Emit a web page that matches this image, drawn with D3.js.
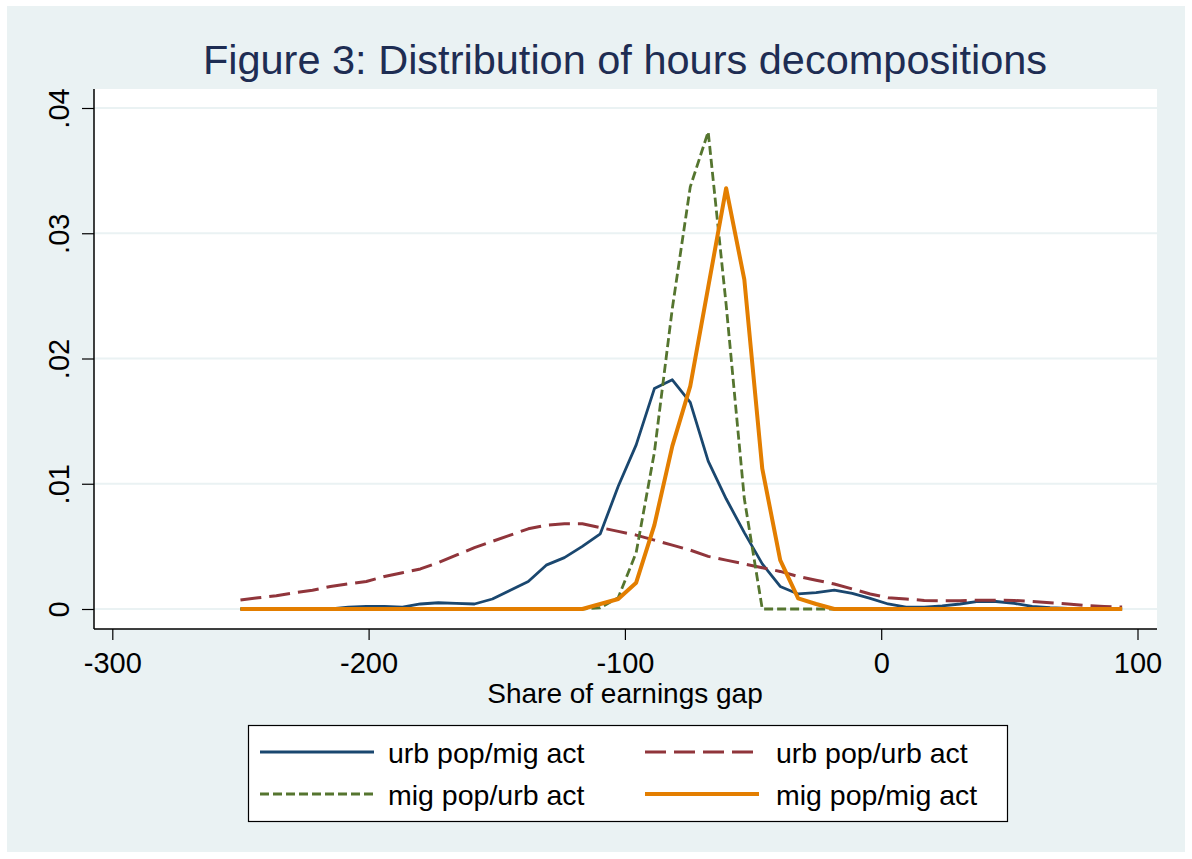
<!DOCTYPE html>
<html>
<head>
<meta charset="utf-8">
<script src="https://cdn.jsdelivr.net/npm/d3@7"></script>
<style>
  body { margin: 0; background: #ffffff; }
  svg { display: block; font-family: "Liberation Sans", Arial, sans-serif; }
</style>
</head>
<body>
<svg width="1192" height="859"></svg>
<script>

// grid of the density estimates (share of earnings gap)
var xs = [-250.0, -243.0, -236.0, -228.9, -221.9, -214.9, -207.9, -200.9, -193.8, -186.8,
    -179.8, -172.8, -165.8, -158.7, -151.7, -144.7, -137.7, -130.7, -123.6, -116.6,
    -109.6, -102.6, -95.6, -88.5, -81.5, -74.5, -67.5, -60.5, -53.4, -46.4,
    -39.4, -32.4, -25.4, -18.3, -11.3, -4.3, 2.7, 9.7, 16.8, 23.8,
    30.8, 37.8, 44.8, 51.9, 58.9, 65.9, 72.9, 79.9, 87.0, 94.0];

// urb pop/mig act
var urbMig = [0, 0, 0, 0, 0, 0, 0.00015, 0.0002, 0.0002, 0.00015,
    0.0004, 0.0005, 0.00045, 0.0004, 0.0008, 0.0015, 0.0022, 0.0035, 0.0041, 0.0050,
    0.0060, 0.0098, 0.0131, 0.0176, 0.0183, 0.0165, 0.0118, 0.0088, 0.0061, 0.0036,
    0.0018, 0.0012, 0.0013, 0.0015, 0.00125, 0.00085, 0.0004, 0.00015, 0.00015, 0.00025,
    0.0004, 0.0006, 0.0006, 0.00045, 0.0002, 0.0001, 0.00005, 0, 0, 0];

// urb pop/urb act
var urbUrb = [0.00072, 0.0009, 0.00106, 0.0013, 0.0015, 0.0018, 0.0020, 0.0022, 0.0026, 0.0029,
    0.0032, 0.0037, 0.0043, 0.0049, 0.0054, 0.0059, 0.0064, 0.0067, 0.0068, 0.0068,
    0.0065, 0.0062, 0.0059, 0.0055, 0.0051, 0.0047, 0.0042, 0.0039, 0.0036, 0.0033,
    0.0030, 0.0026, 0.0023, 0.0020, 0.0016, 0.0012, 0.0009, 0.0008, 0.00068, 0.00066,
    0.00066, 0.0007, 0.0007, 0.00068, 0.0006, 0.0005, 0.0004, 0.00027, 0.0002, 0.00015];

// mig pop/urb act
var migUrb = [0, 0, 0, 0, 0, 0, 0, 0, 0, 0,
    0, 0, 0, 0, 0, 0, 0, 0, 0, 0,
    0.0001, 0.0009, 0.0045, 0.0125, 0.0240, 0.0337, 0.0381, 0.0243, 0.0088, 0,
    0, 0, 0, 0, 0, 0, 0, 0, 0, 0,
    0, 0, 0, 0, 0, 0, 0, 0, 0, 0];

// mig pop/mig act
var migMig = [0, 0, 0, 0, 0, 0, 0, 0, 0, 0,
    0, 0, 0, 0, 0, 0, 0, 0, 0, 0,
    0.0004, 0.0008, 0.0021, 0.0067, 0.0130, 0.0178, 0.0257, 0.0336, 0.0263, 0.0112,
    0.0039, 0.00085, 0.0004, 0, 0, 0, 0, 0, 0, 0,
    0, 0, 0, 0, 0, 0, 0, 0, 0, 0];

var xTicks = [-300, -200, -100, 0, 100];
var yTicks = [0, 0.01, 0.02, 0.03, 0.04];
var yTickLabels = ["0", ".01", ".02", ".03", ".04"];

var series = [
    { name: "urb pop/mig act", values: urbMig, color: "#1a476f", width: 2.8, dash: null },
    { name: "urb pop/urb act", values: urbUrb, color: "#90353b", width: 3, dash: "21,8" },
    { name: "mig pop/urb act", values: migUrb, color: "#55752f", width: 2.8, dash: "9,4" },
    { name: "mig pop/mig act", values: migMig, color: "#e37e00", width: 4, dash: null }
];

var svg = d3.select("svg"),
    width = +svg.attr("width"),
    height = +svg.attr("height");

var plot = { left: 94, right: 1157, top: 89, bottom: 629 };

var x = d3.scaleLinear().domain([-300, 100]).range([112.3, 1137.5]);
var y = d3.scaleLinear().domain([0, 0.04]).range([609, 108]);

// graph region + plot region
svg.append("rect")
    .attr("x", 7).attr("y", 6)
    .attr("width", width - 14).attr("height", height - 13)
    .attr("fill", "#eaf2f3");

svg.append("rect")
    .attr("x", plot.left).attr("y", plot.top)
    .attr("width", plot.right - plot.left).attr("height", plot.bottom - plot.top)
    .attr("fill", "#ffffff");

// gridlines
svg.append("g")
    .attr("class", "grid")
    .selectAll("line")
    .data(yTicks)
    .enter().append("line")
    .attr("x1", plot.left).attr("x2", plot.right)
    .attr("y1", function (d) { return y(d); })
    .attr("y2", function (d) { return y(d); })
    .attr("stroke", "#eaf2f3")
    .attr("stroke-width", 2);

// title
svg.append("text")
    .attr("x", 625)
    .attr("y", 74)
    .attr("text-anchor", "middle")
    .attr("font-size", "41.5px")
    .attr("fill", "#1e2d53")
    .text("Figure 3: Distribution of hours decompositions");

// lines
var line = d3.line()
    .x(function (d) { return x(d[0]); })
    .y(function (d) { return y(d[1]); });

svg.append("g")
    .attr("class", "lines")
    .selectAll("path")
    .data(series)
    .enter().append("path")
    .attr("d", function (s) { return line(xs.map(function (v, i) { return [v, s.values[i]]; })); })
    .attr("fill", "none")
    .attr("stroke", function (s) { return s.color; })
    .attr("stroke-width", function (s) { return s.width; })
    .attr("stroke-dasharray", function (s) { return s.dash; })
    .attr("stroke-linejoin", "round");

// axes
var xAxis = d3.axisBottom(x).tickValues(xTicks).tickSize(11)
    .tickFormat(function (d) { return d; });
var gx = svg.append("g")
    .attr("transform", "translate(0," + plot.bottom + ")")
    .call(xAxis);
gx.select(".domain").attr("d", "M" + plot.left + ",0H" + plot.right).attr("stroke", "#000").attr("stroke-width", 1.5);
gx.selectAll(".tick line").attr("stroke", "#000").attr("stroke-width", 1.2);
gx.selectAll(".tick text")
    .attr("font-size", "29px")
    .attr("font-family", "Liberation Sans, Arial, sans-serif")
    .attr("fill", "#000")
    .attr("dy", null)
    .attr("y", 44);

var yAxis = d3.axisLeft(y).tickValues(yTicks).tickSize(12)
    .tickFormat(function (d, i) { return yTickLabels[i]; });
var gy = svg.append("g")
    .attr("transform", "translate(" + plot.left + ",0)")
    .call(yAxis);
gy.select(".domain").attr("d", "M0," + plot.top + "V" + plot.bottom).attr("stroke", "#000").attr("stroke-width", 1.5);
gy.selectAll(".tick line").attr("stroke", "#000").attr("stroke-width", 1.2);
gy.selectAll(".tick text")
    .attr("font-size", "29px")
    .attr("font-family", "Liberation Sans, Arial, sans-serif")
    .attr("fill", "#000")
    .attr("x", null).attr("dy", null)
    .attr("text-anchor", "middle")
    .attr("transform", "translate(-25,0) rotate(-90)");

svg.append("text")
    .attr("x", 625)
    .attr("y", 703)
    .attr("text-anchor", "middle")
    .attr("font-size", "28px")
    .text("Share of earnings gap");

// legend
var legend = svg.append("g").attr("class", "legend");
legend.append("rect")
    .attr("x", 248.5).attr("y", 725.5)
    .attr("width", 759).attr("height", 96)
    .attr("fill", "#ffffff")
    .attr("stroke", "#000")
    .attr("stroke-width", 1.2);

var slots = [
    { lx: 260, ly: 752, tx: 388 },
    { lx: 645, ly: 752, tx: 776 },
    { lx: 260, ly: 794, tx: 388 },
    { lx: 645, ly: 794, tx: 776 }
];

var item = legend.selectAll(".item")
    .data(series)
    .enter().append("g")
    .attr("class", "item");

item.append("line")
    .attr("x1", function (d, i) { return slots[i].lx; })
    .attr("x2", function (d, i) { return slots[i].lx + 114; })
    .attr("y1", function (d, i) { return slots[i].ly; })
    .attr("y2", function (d, i) { return slots[i].ly; })
    .attr("stroke", function (d) { return d.color; })
    .attr("stroke-width", function (d) { return d.width; })
    .attr("stroke-dasharray", function (d) { return d.dash; });

item.append("text")
    .attr("x", function (d, i) { return slots[i].tx; })
    .attr("y", function (d, i) { return slots[i].ly + 11; })
    .attr("font-size", "28.5px")
    .text(function (d) { return d.name; });

</script>
</body>
</html>
